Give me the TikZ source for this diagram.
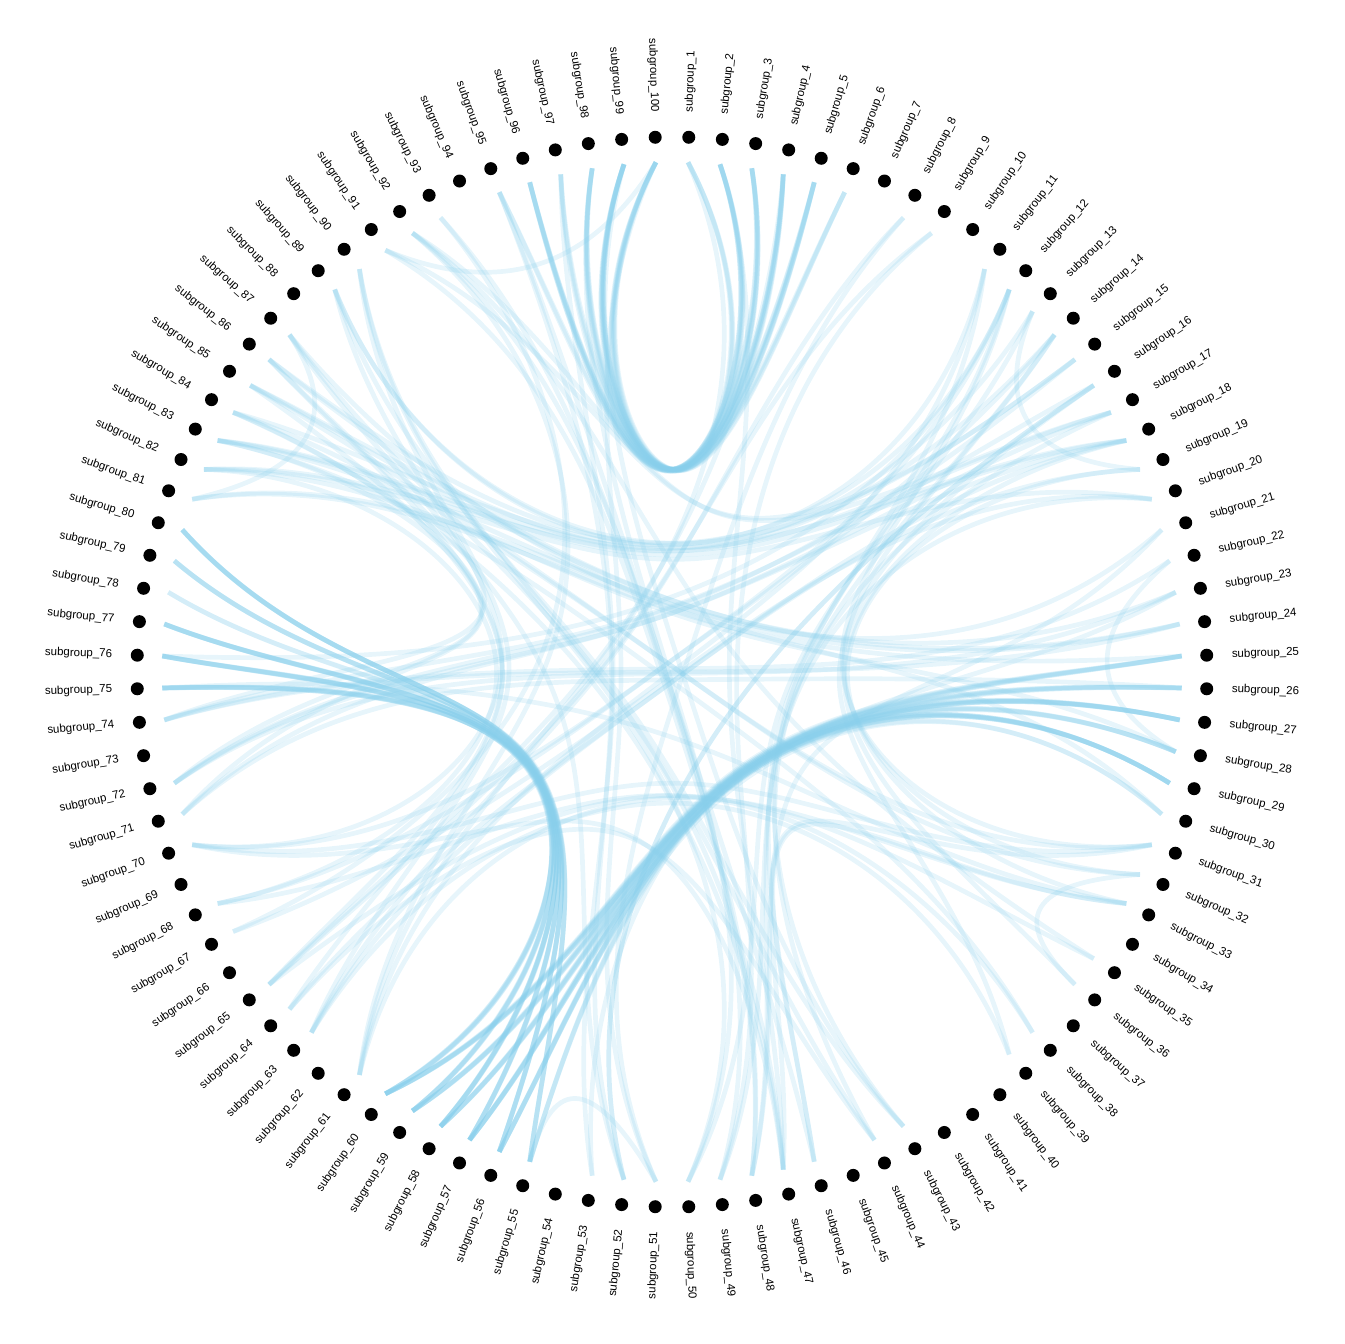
\documentclass[tikz,border=0pt]{standalone}
\usepackage{fontspec}
\setmainfont{Liberation Sans}
\usetikzlibrary{calc}
\definecolor{skyblue}{RGB}{135,206,235}
\begin{document}
\begin{tikzpicture}[x=1pt, y=1pt,
  leaf/.style={circle, fill=black, inner sep=0pt, minimum size=13pt},
  leaflabel/.style={inner sep=0pt, font=\fontsize{11.5}{13}\selectfont},
  conn/.style={skyblue, opacity=0.2, line width=4.7pt}]
\useasboundingbox (-672,-672) rectangle (672,672);
\foreach \i in {1,...,100} {
  \pgfmathsetmacro\ang{90-(\i-0.5)*3.6}
  \coordinate (p\i) at (\ang:510);
}
\foreach \k in {1,...,10} \coordinate (g\k) at ({90-(36*\k-18)}:355);
\foreach \a/\b in {1/99, 1/100, 2/96, 2/98, 2/99, 2/97, 2/100, 3/95, 3/96, 3/99, 3/98, 3/100, 4/96, 4/99, 4/97,
    4/98, 4/96, 5/95, 5/99, 5/96, 5/100, 5/98, 6/97, 6/100, 6/99, 3/99, 4/100, 2/96, 5/99, 1/98,
    25/57, 25/59, 25/60, 25/56, 26/58, 26/60, 26/55, 26/57, 27/56, 27/58, 27/59, 27/60, 27/57, 27/55, 28/59,
    28/56, 28/58, 29/57, 29/60, 29/60, 29/58, 29/56, 29/59, 30/55, 30/57, 25/58, 26/59, 28/60, 27/56, 29/57,
    75/56, 75/58, 75/60, 75/57, 75/59, 76/55, 76/57, 76/59, 76/60, 76/58, 77/56, 77/58, 77/60, 77/59, 77/57,
    78/55, 78/59, 79/57, 79/60, 79/56, 80/58, 80/58, 80/56, 80/59, 80/60, 80/57, 75/55, 77/55, 76/56, 79/58,
    81/87, 82/28, 83/38, 84/31, 84/47, 85/32, 86/52, 87/44, 89/43, 90/47, 90/50, 91/100, 92/46, 92/35, 93/48,
    95/49, 8/63, 9/65, 11/61, 12/68, 13/19, 13/83, 14/70, 15/72, 16/74, 16/52, 17/71, 18/63, 19/64, 20/67,
    21/48, 22/28, 23/72, 24/74, 2/47, 4/65, 100/51, 98/50, 8/51, 9/49, 95/52, 97/53, 91/48, 74/22, 76/12,
    75/33, 72/18, 71/26, 70/31, 81/25, 82/20, 83/18, 85/17, 86/24, 87/30, 89/15, 32/36, 51/55, 33/61, 35/65,
    38/68, 39/63, 43/11, 44/14, 46/12, 47/31, 48/17, 49/20, 50/13, 52/16, 53/23, 61/92, 63/90, 64/85, 65/86,
    67/93, 68/82, 70/89, 71/84, 72/83, 74/87, 11/84, 12/86, 14/82, 15/91, 17/92, 18/89, 21/81, 23/85, 24/83,
    31/12, 32/14, 33/19, 36/18, 39/16, 44/64, 47/70, 61/1, 43/99, 46/33} {
  \pgfmathtruncatemacro\ga{div(\a-1,10)+1}
  \pgfmathtruncatemacro\gb{div(\b-1,10)+1}
  \ifnum\ga=\gb
    \draw[conn] (p\a) .. controls ($0.3667*(p\a)+0.6*(g\ga)+0.0333*(p\b)$)
      and ($0.0333*(p\a)+0.6*(g\ga)+0.3667*(p\b)$) .. (p\b);
  \else
    \draw[conn] (p\a) .. controls ($0.9*(g\ga)+0.075*(p\a)+0.025*(p\b)$)
      and ($0.45*(g\ga)+0.0625*(p\a)+0.0375*(p\b)$)
      .. ($0.225*(g\ga)+0.225*(g\gb)+0.05*(p\a)+0.05*(p\b)$)
      .. controls ($0.45*(g\gb)+0.0375*(p\a)+0.0625*(p\b)$)
      and ($0.9*(g\gb)+0.025*(p\a)+0.075*(p\b)$) .. (p\b);
  \fi
}
\foreach \i in {1,...,100} {
  \pgfmathsetmacro\ang{90-(\i-0.5)*3.6}
  \node[leaf] (s\i) at (\ang:535) {};
  \ifnum\i<51
    \node[leaflabel, anchor=west, rotate=\ang] (l\i) at (\ang:560) {subgroup\_\i};
  \else
    \node[leaflabel, anchor=east, rotate=\ang+180] (l\i) at (\ang:560) {subgroup\_\i};
  \fi
}
\end{tikzpicture}
\end{document}
